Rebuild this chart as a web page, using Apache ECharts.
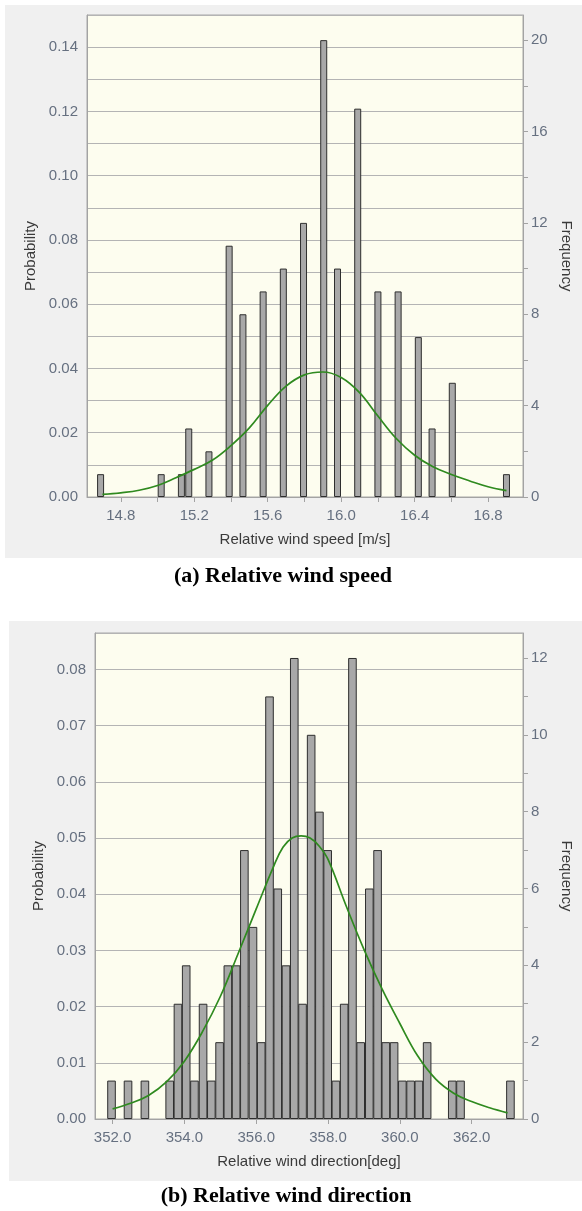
<!DOCTYPE html>
<html>
<head>
<meta charset="utf-8">
<script src="https://cdn.jsdelivr.net/npm/echarts@6/dist/echarts.min.js"></script>
<style>
  html, body { margin: 0; padding: 0; background: #fff; }
  #chart { width: 582px; height: 1211px; }
</style>
</head>
<body>
<div id="chart"></div>
<script>
// (a) relative wind speed histogram
var speedBins = [14.69, 15.02, 15.13, 15.17, 15.28, 15.39, 15.465, 15.575, 15.685, 15.795,
                 15.905, 15.98, 16.09, 16.20, 16.31, 16.42, 16.495, 16.605, 16.90];
var speedFreq = [1, 1, 1, 3, 2, 11, 8, 9, 10, 12, 20, 10, 17, 9, 9, 7, 3, 5, 1];
// fitted density (probability axis)
var speedCurveX = [14.70, 14.80, 14.90, 15.00, 15.10, 15.20, 15.30, 15.40, 15.50, 15.60,
                   15.70, 15.80, 15.90, 16.00, 16.10, 16.20, 16.30, 16.40, 16.50, 16.60,
                   16.70, 16.80, 16.90];
var speedCurveP = [0.0008, 0.0013, 0.0021, 0.0036, 0.0060, 0.0086, 0.0115, 0.0160, 0.0215, 0.0285,
                   0.0345, 0.0380, 0.0389, 0.0372, 0.0325, 0.0252, 0.0182, 0.0130, 0.0094, 0.0070,
                   0.0050, 0.0032, 0.0020];
var speedTicks = [14.8, 15.0, 15.2, 15.4, 15.6, 15.8, 16.0, 16.2, 16.4, 16.6, 16.8];
var speedLabels = [14.8, 15.2, 15.6, 16.0, 16.4, 16.8];
var speedFreqTicks = [0, 2, 4, 6, 8, 10, 12, 14, 16, 18, 20];
var speedFreqLabels = [0, 4, 8, 12, 16, 20];

// (b) relative wind direction histogram
var dirBins = [351.97, 352.43, 352.90, 353.59, 353.82, 354.05, 354.28, 354.52, 354.75, 354.98,
               355.21, 355.44, 355.67, 355.91, 356.14, 356.37, 356.60, 356.83, 357.06, 357.29,
               357.53, 357.76, 357.99, 358.22, 358.45, 358.68, 358.91, 359.15, 359.38, 359.61,
               359.84, 360.07, 360.30, 360.53, 360.76, 361.46, 361.69, 363.08];
var dirFreq = [1, 1, 1, 1, 3, 4, 1, 3, 1, 2,
               4, 4, 7, 5, 2, 11, 6, 4, 12, 3,
               10, 8, 7, 1, 3, 12, 2, 6, 7, 2,
               2, 1, 1, 1, 2, 1, 1, 1];
var dirCurveX = [352.0, 352.5, 353.0, 353.5, 354.0, 354.5, 355.0, 355.5, 356.0, 356.5,
                 356.75, 357.0, 357.25, 357.5, 357.75, 358.0, 358.5, 359.0, 359.5, 360.0,
                 360.5, 361.0, 361.5, 362.0, 362.5, 363.0];
var dirCurveP = [0.0018, 0.0028, 0.0042, 0.0066, 0.0103, 0.0155, 0.0218, 0.0295, 0.0374, 0.0452,
                 0.0484, 0.0500, 0.0504, 0.0500, 0.0486, 0.0462, 0.0380, 0.0302, 0.0232, 0.0170,
                 0.0112, 0.0071, 0.0046, 0.0031, 0.0020, 0.0011];
var dirTicks = [352, 354, 356, 358, 360, 362];
var dirFreqTicks = [0, 1, 2, 3, 4, 5, 6, 7, 8, 9, 10, 11, 12];
var dirFreqLabels = [0, 2, 4, 6, 8, 10, 12];

function zip(a, b) {
  return a.map(function(v, i) { return [v, b[i]]; });
}

var labelFont = 'Liberation Sans';
var labelColor = '#667080';
var nameColor = '#3a3a3a';
var axisGrey = '#a3a3a3';
var gridGrey = '#b4b4b4';

function xAxisOf(idx, min, max, ticks, labels, name) {
  return {
    type: 'value', gridIndex: idx, min: min, max: max,
    name: name, nameLocation: 'middle', nameGap: 35,
    nameTextStyle: { fontFamily: labelFont, fontSize: 15, color: nameColor },
    axisLine: { onZero: false, lineStyle: { color: axisGrey } },
    axisTick: { customValues: ticks, length: 5, lineStyle: { color: axisGrey } },
    axisLabel: {
      customValues: labels, margin: 11,
      fontFamily: labelFont, fontSize: 15, color: labelColor,
      formatter: function(v) { return v.toFixed(1); }
    },
    splitLine: { show: false }
  };
}

function probAxis(idx, max, everyOther) {
  return {
    type: 'value', gridIndex: idx, position: 'left', min: 0, max: max, interval: 0.01,
    name: 'Probability', nameLocation: 'middle', nameGap: 48, nameRotate: 90,
    nameTextStyle: { fontFamily: labelFont, fontSize: 15, color: nameColor },
    axisLine: { show: true, lineStyle: { color: axisGrey } },
    axisTick: { show: false },
    axisLabel: {
      margin: 9, fontFamily: labelFont, fontSize: 15, color: labelColor,
      showMaxLabel: false,
      formatter: function(v) {
        if (everyOther && Math.round(v * 100) % 2 !== 0) return '';
        return v.toFixed(2);
      }
    },
    splitLine: { show: true, lineStyle: { color: gridGrey, width: 1.2 } }
  };
}

function freqAxis(idx, max, ticks, labels) {
  return {
    type: 'value', gridIndex: idx, position: 'right', min: 0, max: max,
    name: 'Frequency', nameLocation: 'middle', nameGap: 36, nameRotate: -90,
    nameTextStyle: { fontFamily: labelFont, fontSize: 15, color: nameColor },
    axisLine: { show: true, lineStyle: { color: axisGrey } },
    axisTick: { customValues: ticks, length: 5, lineStyle: { color: axisGrey } },
    axisLabel: {
      customValues: labels, margin: 8,
      fontFamily: labelFont, fontSize: 15, color: labelColor
    },
    splitLine: { show: false }
  };
}

var barStyle = { color: '#a8a8a8', borderColor: '#2e2e2e', borderWidth: 1 };
var curveStyle = { color: '#2f8a1f', width: 1.7 };

var option = {
  animation: false,
  backgroundColor: '#ffffff',
  graphic: [
    { type: 'rect', z: -10, shape: { x: 5, y: 5, width: 577, height: 553 }, style: { fill: '#f0f0f0' } },
    { type: 'rect', z: -10, shape: { x: 9, y: 621, width: 573, height: 560 }, style: { fill: '#f0f0f0' } },
    { type: 'text', x: 283, y: 576, style: {
        text: '(a) Relative wind speed', font: 'bold 22px "Liberation Serif"',
        fill: '#000', align: 'center', verticalAlign: 'middle',
        textAlign: 'center', textVerticalAlign: 'middle' } },
    { type: 'text', x: 286, y: 1196, style: {
        text: '(b) Relative wind direction', font: 'bold 22px "Liberation Serif"',
        fill: '#000', align: 'center', verticalAlign: 'middle',
        textAlign: 'center', textVerticalAlign: 'middle' } }
  ],
  grid: [
    { left: 87, top: 15, width: 439, height: 482, show: true,
      backgroundColor: '#fdfdef', borderColor: '#a9a9a9', borderWidth: 1 },
    { left: 95, top: 633, width: 441, height: 486, show: true,
      backgroundColor: '#fdfdef', borderColor: '#a9a9a9', borderWidth: 1 }
  ],
  xAxis: [
    xAxisOf(0, 14.616, 16.99, speedTicks, speedLabels, 'Relative wind speed [m/s]'),
    xAxisOf(1, 351.51, 363.43, dirTicks, dirTicks, 'Relative wind direction[deg]')
  ],
  yAxis: [
    probAxis(0, 0.15, true),
    freqAxis(0, 21.1, speedFreqTicks, speedFreqLabels),
    probAxis(1, 0.0865, false),
    freqAxis(1, 12.65, dirFreqTicks, dirFreqLabels)
  ],
  series: [
    { type: 'bar', xAxisIndex: 0, yAxisIndex: 1, barWidth: 7,
      data: zip(speedBins, speedFreq), itemStyle: barStyle },
    { type: 'line', xAxisIndex: 0, yAxisIndex: 0, smooth: 0.4, showSymbol: false,
      data: zip(speedCurveX, speedCurveP), lineStyle: curveStyle, z: 5 },
    { type: 'bar', xAxisIndex: 1, yAxisIndex: 3, barWidth: 8.6,
      data: zip(dirBins, dirFreq), itemStyle: barStyle },
    { type: 'line', xAxisIndex: 1, yAxisIndex: 2, smooth: 0.4, showSymbol: false,
      data: zip(dirCurveX, dirCurveP), lineStyle: curveStyle, z: 5 }
  ]
};

var chart = echarts.init(document.getElementById('chart'));
chart.setOption(option);
</script>
</body>
</html>
